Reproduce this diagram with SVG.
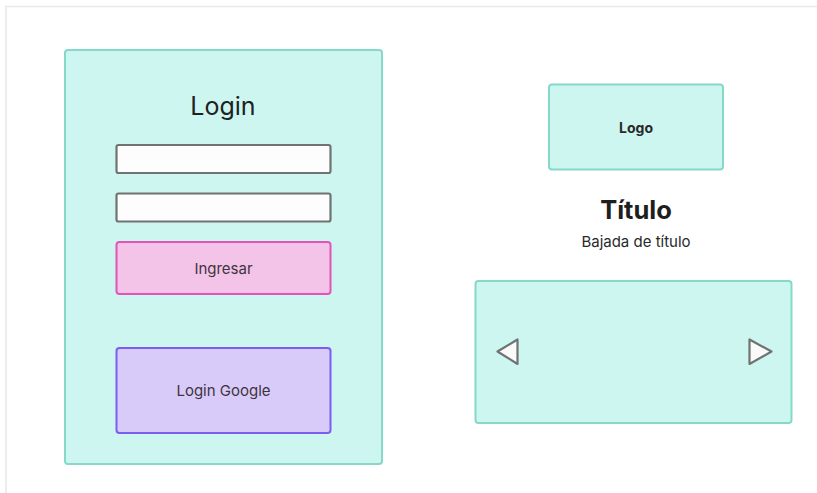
<svg xmlns="http://www.w3.org/2000/svg" width="817" height="493" viewBox="0 0 817 493">
  <style>
    text { font-family: Inter, "Noto Sans", "Liberation Sans", sans-serif; text-anchor: middle; }
    .panel { fill: #cdf6f1; stroke: #86d8c9; stroke-width: 2; }
    .input { fill: #fdfdfd; stroke: #6f7372; stroke-width: 2.2; }
    .primary { fill: #f4c3e8; stroke: #e453b8; stroke-width: 2; }
    .google { fill: #d9cbf9; stroke: #7d5cf2; stroke-width: 2; }
    .arrow { fill: #fafafa; stroke: #6f7372; stroke-width: 2.2; stroke-linejoin: round; }
    .label { fill: #3e3440; font-size: 15px; }
  </style>
  <rect width="817" height="493" fill="#ffffff"/>
  <!-- canvas frame -->
  <path d="M6 493 V6.5 H817" fill="none" stroke="#e6e9e9" stroke-width="1.5"/>

  <g id="login-panel">
    <rect class="panel" x="65" y="50" width="317" height="414" rx="3"/>
    <text x="223" y="115" font-size="25" fill="#1e2222">Login</text>
  </g>
  <g id="user-input">
    <rect class="input" x="116.5" y="145" width="214" height="28" rx="2"/>
  </g>
  <g id="password-input">
    <rect class="input" x="116.5" y="193.5" width="214" height="28" rx="2"/>
  </g>
  <g id="ingresar">
    <rect class="primary" x="116.5" y="242" width="214" height="52" rx="3"/>
    <text class="label" x="223.5" y="274">Ingresar</text>
  </g>
  <g id="login-google">
    <rect class="google" x="116.5" y="348" width="214" height="85" rx="3"/>
    <text class="label" x="223.5" y="396">Login Google</text>
  </g>

  <g id="logo">
    <rect class="panel" x="549" y="84.5" width="174" height="85" rx="3"/>
    <text x="636" y="133" font-size="14" font-weight="700" fill="#2a2a2a">Logo</text>
  </g>
  <g id="titulo">
    <text x="636" y="219" font-size="25.5" font-weight="700" fill="#1e1e1e">Título</text>
    <text x="636" y="247" font-size="15" fill="#2a2a2a">Bajada de título</text>
  </g>
  <g id="carousel">
    <rect class="panel" x="475.5" y="281" width="316" height="142" rx="3"/>
    <path class="arrow" d="M517.5 339.5 V364 L497.5 351.5 Z"/>
    <path class="arrow" d="M749.5 339.5 V364 L771.5 351.5 Z"/>
  </g>
  <g id="connectors"/>
</svg>
